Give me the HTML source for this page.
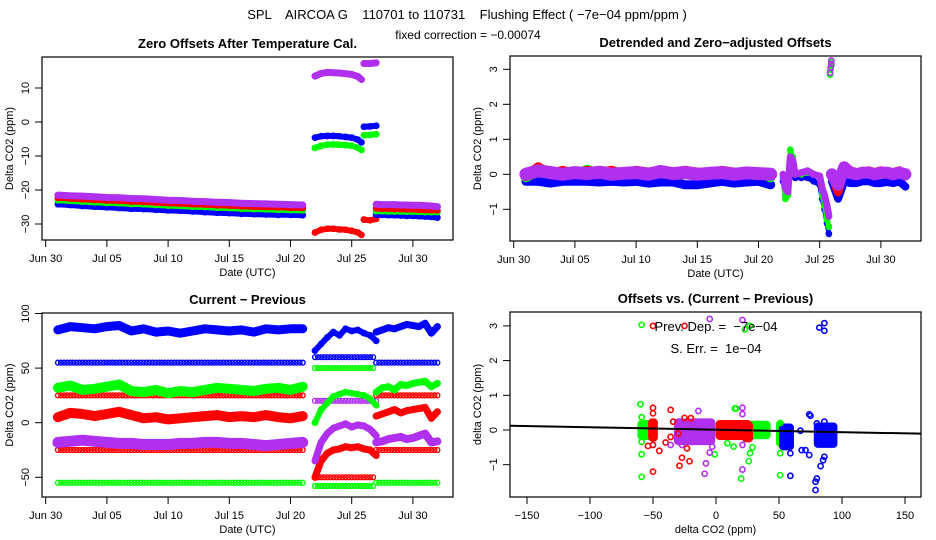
<!DOCTYPE html>
<html><head><meta charset="utf-8"><style>
html,body{margin:0;padding:0;background:#fff}
svg{display:block;font-family:"Liberation Sans",sans-serif}
</style></head><body>
<svg id="chart" width="936" height="540" viewBox="0 0 936 540" xmlns="http://www.w3.org/2000/svg">
<rect width="936" height="540" fill="#fff"/>
<text x="467" y="19" font-size="13" text-anchor="middle" style="white-space:pre">SPL    AIRCOA G    110701 to 110731    Flushing Effect ( −7e−04 ppm/ppm )</text>
<text x="468" y="39" font-size="12" text-anchor="middle">fixed correction = −0.00074</text>
</svg>
<script>
// ---------- data ----------
const dateTickLabels = ["Jun 30","Jul 05","Jul 10","Jul 15","Jul 20","Jul 25","Jul 30"];
const dateTickDays = [0,5,10,15,20,25,30];
const daysA = [1,2,3,4,5,6,7,8,9,10,11,12,13,14,15,16,17,18,19,20,21];
const daysB = [22,22.5,23,23.5,24,24.5,25,25.5,26,26.5,27];
const daysC = [27,27.5,28,28.5,29,29.5,30,30.5,31,31.5,32];
const daysB1 = [22,22.5,23,23.5,24,24.5,25,25.5,25.8];
const daysC1 = [26,26.5,27];

// Panel 1: zero offsets after temperature cal.
const p1Ticks = [-30,-20,-10,0,10];
const p1PurpleA = [-21.5,-21.7,-21.8,-22,-22.2,-22.3,-22.5,-22.6,-22.8,-23,-23.1,-23.3,-23.4,-23.6,-23.7,-23.9,-24,-24.1,-24.2,-24.3,-24.4];
const p1RedA = [-22.3,-22.5,-22.7,-22.9,-23.1,-23.2,-23.4,-23.5,-23.7,-23.9,-24,-24.2,-24.3,-24.5,-24.6,-24.8,-24.9,-25,-25.1,-25.2,-25.3];
const p1GreenA = [-23,-23.2,-23.4,-23.6,-23.8,-23.9,-24.1,-24.2,-24.4,-24.6,-24.7,-24.9,-25,-25.2,-25.3,-25.5,-25.6,-25.7,-25.8,-25.9,-26];
const p1BlueA = [-24.2,-24.4,-24.7,-24.9,-25.1,-25.3,-25.5,-25.6,-25.8,-26,-26.1,-26.3,-26.5,-26.7,-26.8,-27,-27.1,-27.2,-27.3,-27.3,-27.4];
const p1PurpleB = [13.5,14.3,14.6,14.5,14.4,14.2,14,13.4,12.5];
const p1BlueB = [-4.6,-4.2,-4.1,-4.1,-4.2,-4.4,-4.6,-5.2,-6];
const p1GreenB = [-7.6,-7,-6.7,-6.6,-6.7,-6.8,-7,-7.6,-8.2];
const p1RedB = [-32.5,-31.7,-31.4,-31.4,-31.6,-31.7,-32,-32.5,-33.2];
const p1PurpleC = [17.2,17.2,17.4];
const p1BlueC = [-1.4,-1.3,-1.1];
const p1GreenC = [-3.9,-3.8,-3.6];
const p1RedC = [-28.7,-28.9,-28.5];
const p1PurpleD = [-24.2,-24.3,-24.3,-24.3,-24.4,-24.4,-24.5,-24.5,-24.6,-24.7,-24.9];
const p1RedD = [-25.4,-25.5,-25.5,-25.6,-25.6,-25.7,-25.7,-25.8,-25.9,-25.9,-26];
const p1GreenD = [-26.2,-26.2,-26.3,-26.3,-26.3,-26.4,-26.4,-26.4,-26.5,-26.5,-26.5];
const p1BlueD = [-27.3,-27.3,-27.4,-27.4,-27.5,-27.6,-27.6,-27.7,-27.8,-27.9,-28.1];

// Panel 2: detrended offsets
const p2Ticks = [-1,0,1,2,3];
const p2PurpleA = [0,0.1,0.05,0,0.05,0.02,0.06,0,0.03,0.05,0,0.08,0.02,0.05,0,0.03,0.05,0,0.04,0.02,0];
const p2RedA = [-0.05,0.2,0,0.1,0,0.1,0.05,0.1,0,0.1,0.05,0.1,0.05,0.1,0.05,0,0.1,0.05,0,0.05,0];
const p2GreenA = [-0.1,0.1,0,0.1,0,0.15,0,0.05,0,0.05,0,0.05,0.05,0.1,0,0.05,0.1,0.05,0,0.05,-0.1];
const p2BlueA = [-0.2,-0.2,-0.25,-0.2,-0.2,-0.2,-0.22,-0.2,-0.22,-0.2,-0.25,-0.22,-0.22,-0.3,-0.3,-0.25,-0.2,-0.25,-0.22,-0.2,-0.3];
const p2DaysB = [22,22.2,22.4,22.6,22.8,23,23.5,24,24.5,25,25.2,25.4,25.6,25.75];
const p2PurpleB = [0,-0.4,-0.5,0.5,0.4,0,0.05,0.1,0,-0.05,-0.4,-0.6,-0.9,-1.2];
const p2BlueB = [-0.2,-0.6,-0.55,0.4,0.3,-0.1,-0.1,-0.1,-0.2,-0.3,-0.7,-1,-1.4,-1.7];
const p2GreenB = [-0.1,-0.7,-0.6,0.7,0.5,0,0,0.05,0,-0.1,-0.6,-0.9,-1.3,-1.5];
const p2SpikeDays = [25.85,25.9,25.95,25.95];
const p2SpikeVals = [2.85,3.0,3.1,3.2];
const p2DaysC = [26,26.5,27,27.5,28,28.5,29,29.5,30,30.5,31,31.5,32];
const p2PurpleC = [0,-0.3,0.2,0.05,0,0.05,0.05,0,0.05,0.05,0,0.05,0];
const p2RedC = [0,-0.5,0.2,0.1,0.05,0.05,0.1,0.05,0.1,0.05,0.05,0.1,-0.05];
const p2BlueC = [-0.2,-0.7,-0.2,-0.25,-0.25,-0.2,-0.2,-0.25,-0.25,-0.22,-0.25,-0.2,-0.35];

// Panel 3: current - previous
const p3Ticks = [-50,0,50,100];
const p3BlueHiA = [85,88,87,86,88,89,84,86,83,84,82,84,86,85,84,85,83,86,85,86,86];
const p3BlueHiB = [66,72,78,83,80,86,84,85,82,80,75];
const p3BlueHiC = [83,85,87,86,88,90,89,88,91,82,88];
const p3GreenA = [32,34,30,31,33,35,29,28,30,27,29,28,30,32,31,30,29,31,32,30,33];
const p3GreenB = [0,12,18,24,26,28,27,26,25,22,16];
const p3GreenC = [28,32,33,30,35,34,36,37,38,33,36];
const p3RedA = [5,9,8,6,8,10,7,4,5,3,4,5,6,7,5,6,5,7,5,4,6];
const p3RedB = [-50,-35,-28,-25,-24,-22,-23,-22,-24,-25,-30];
const p3RedC = [6,8,10,12,9,11,12,13,14,4,10];
const p3PurpleA = [-18,-17,-16,-17,-18,-19,-19,-20,-20,-20,-19,-19,-18,-18,-19,-19,-20,-21,-20,-19,-18];
const p3PurpleB = [-35,-18,-10,-5,-3,-1,-4,-2,-3,-6,-12];
const p3PurpleC = [-18,-17,-15,-14,-13,-15,-14,-12,-10,-18,-17];
// constant-level segments: [startDay, endDay, value]
const p3BlueLevels = [[1,21,55],[22,26.8,60],[27,32,55]];
const p3GreenLevels = [[22,26.8,50],[1,21,-55],[22,26.8,-58],[27,32,-55]];
const p3RedLevels = [[1,21,25],[27,32,25],[1,21,-25],[22,26.8,-50],[27,32,-25]];
const p3PurpleLevels = [[22,27,20]];

// Panel 4: offsets vs (current - previous)
const p4XTicks = [-150,-100,-50,0,50,100,150];
const p4YTicks = [-1,0,1,2,3];
const p4Slope = -0.0007;
const p4Intercept = 0.008;
// blobs: [cx, cy, halfWidth, halfHeight] in data units
const p4GreenBlobs = [[-56,0,4,0.2],[33,0,8,0.18],[51,-0.1,1,0.3]];
const p4RedBlobs = [[-50,0,1.5,0.25],[14,0,12,0.2],[25,-0.05,2,0.22]];
const p4PurpleBlobs = [[-17,-0.05,14,0.3]];
const p4BlueBlobs = [[56,-0.2,3.5,0.3],[87,-0.15,7,0.28]];
const p4GreenX = [-59,-60,-59,-59,-59,-59,9,15,16,14,20,26,27,29,23,27,51,51,51,-1];
const p4GreenY = [3.03,0.74,0.37,-0.34,-0.7,-1.35,-0.38,0.62,0.62,-0.48,-1.4,-0.9,-0.67,-0.5,2.9,3.0,-0.67,-1.3,0.2,-0.7];
const p4RedX = [-50,-50,-50,-50,-50,-54,-45,-40,-36,-36,-34,-30,-29,-27,-25,-23,-21,-20,-25];
const p4RedY = [3.0,0.64,0.48,-0.43,-1.2,-0.46,-0.6,-0.36,-0.2,0.58,0.24,-0.1,-1.03,-0.8,0.35,-0.53,-0.9,0.34,3.0];
const p4PurpleX = [-5,21,-14,-9,-8,-5,-3,21,21,21,21,-36,-27];
const p4PurpleY = [3.2,3.17,0.55,-1.26,-0.96,-0.65,-0.48,0.64,0.46,-0.43,-1.14,-0.43,-0.43];
const p4BlueX = [82,86,86,59,59,67,68,71,74,74,75,80,79,79,80,83,85,86,86,58];
const p4BlueY = [2.95,3.08,2.86,-0.67,-1.32,-0.02,-0.58,-0.58,-0.72,0.45,0.41,0.19,-1.73,-1.49,-1.4,-1.04,-0.87,-0.77,0.24,-0.48];

// ---------- drawing ----------
const NS = "http://www.w3.org/2000/svg";
const svg = document.getElementById("chart");
const C = {blue:"#0000ff", green:"#00ff00", red:"#ff0000", purple:"#b030f0"};
function mk(tag, attrs, parent){
  const e = document.createElementNS(NS, tag);
  for (const k in attrs) e.setAttribute(k, attrs[k]);
  (parent||svg).appendChild(e);
  return e;
}
function txt(x,y,s,size,anchor,rot,parent,weight){
  const t = mk("text",{x:x,y:y,"font-size":size,"text-anchor":anchor||"middle"},parent);
  if (rot) t.setAttribute("transform","rotate(-90 "+x+" "+y+")");
  if (weight) t.setAttribute("font-weight",weight);
  t.textContent = s;
  return t;
}
function panel(name, box, sx, sy, title, xlab, ylab, xTicks, xTickLabels, yTicks){
  const g = mk("g",{});
  
  
  const clip = mk("clipPath",{id:name+"-clip"},g);
  mk("rect",{x:box.x0,y:box.y0,width:box.x1-box.x0,height:box.y1-box.y0},clip);
  const plot = mk("g",{"clip-path":"url(#"+name+"-clip)"},g);
  
  
  const fr = mk("rect",{x:box.x0,y:box.y0,width:box.x1-box.x0,height:box.y1-box.y0,fill:"none",stroke:"#000","stroke-width":1.2},g);
  
  
  const ax = mk("g",{stroke:"#000","stroke-width":1},g);
  
  
  mk("line",{x1:sx(xTicks[0]),x2:sx(xTicks[xTicks.length-1]),y1:box.y1,y2:box.y1},ax);
  xTicks.forEach((v,i)=>{
    const X = sx(v);
    mk("line",{x1:X,x2:X,y1:box.y1,y2:box.y1+7},ax);
    const t = txt(X, box.y1+22, xTickLabels[i], 11, "middle", false, g);
    
    
  });
  const ay = mk("g",{stroke:"#000","stroke-width":1},g);
  
  
  mk("line",{x1:box.x0,x2:box.x0,y1:sy(yTicks[0]),y2:sy(yTicks[yTicks.length-1])},ay);
  yTicks.forEach(v=>{
    const Y = sy(v);
    mk("line",{x1:box.x0-7,x2:box.x0,y1:Y,y2:Y},ay);
    const t = txt(box.x0-13, Y, String(v).replace("-","−"), 11, "middle", true, g);
    
    
  });
  const tt = txt((box.x0+box.x1)/2, box.y0-9, title, 13, "middle", false, g, "bold");
  
  
  const xl = txt((box.x0+box.x1)/2, box.y1+36, xlab, 11, "middle", false, g);
  
  
  const yl = txt(box.x0-29, (box.y0+box.y1)/2, ylab, 11, "middle", true, g);
  
  
  return plot;
}
function band(plot, sx, sy, xs, ys, color, w, nm){
  const pts = xs.map((d,i)=>sx(d).toFixed(1)+","+sy(ys[i]).toFixed(1)).join(" ");
  const p = mk("polyline",{points:pts,fill:"none",stroke:color,"stroke-width":w,"stroke-linejoin":"round","stroke-linecap":"round"},plot);
  
  
  xs.forEach((d,i)=>{
    const c = mk("circle",{cx:sx(d),cy:sy(ys[i]),r:2.6,fill:"none",stroke:color,"stroke-width":1.6},plot);
    
    
  });
}
function pts(plot, sx, sy, xs, ys, color, nm){
  xs.forEach((d,i)=>{
    const c = mk("circle",{cx:sx(d),cy:sy(ys[i]),r:2.6,fill:"none",stroke:color,"stroke-width":1.6},plot);
    
    
  });
}
function levels(plot, sx, sy, segs, color, nm){
  segs.forEach(s=>{
    for (let d=s[0]; d<=s[1]+1e-6; d+=0.25){
      const c = mk("circle",{cx:sx(d),cy:sy(s[2]),r:2.4,fill:"none",stroke:color,"stroke-width":1.4},plot);
      
      
    }
  });
}

// Panel 1
{
  const box = {x0:42,x1:453,y0:57,y1:240};
  const sx = d => 45.7 + d*12.24;
  const sy = v => 122 - v*3.4;
  const pl = panel("zero-offsets-panel", box, sx, sy, "Zero Offsets After Temperature Cal.", "Date (UTC)", "Delta CO2 (ppm)", dateTickDays, dateTickLabels, p1Ticks);
  const w = 6;
  [[daysA,p1BlueA,p1GreenA,p1RedA,p1PurpleA],[daysB1,p1BlueB,p1GreenB,p1RedB,p1PurpleB],[daysC1,p1BlueC,p1GreenC,p1RedC,p1PurpleC],[daysC,p1BlueD,p1GreenD,p1RedD,p1PurpleD]].forEach(s=>{
    band(pl,sx,sy,s[0],s[1],C.blue,w,"blue-offset-series");
    band(pl,sx,sy,s[0],s[2],C.green,w,"green-offset-series");
    band(pl,sx,sy,s[0],s[3],C.red,w,"red-offset-series");
    band(pl,sx,sy,s[0],s[4],C.purple,w+1,"purple-offset-series");
  });
}
// Panel 2
{
  const box = {x0:510,x1:921,y0:56,y1:241};
  const sx = d => 513.7 + d*12.24;
  const sy = v => 174.3 - v*35;
  const pl = panel("detrended-panel", box, sx, sy, "Detrended and Zero−adjusted Offsets", "Date (UTC)", "Delta CO2 (ppm)", dateTickDays, dateTickLabels, p2Ticks);
  band(pl,sx,sy,daysA,p2BlueA,C.blue,9,"blue-detrended-series");
  band(pl,sx,sy,daysA,p2GreenA,C.green,9,"green-detrended-series");
  band(pl,sx,sy,daysA,p2RedA,C.red,10,"red-detrended-series");
  band(pl,sx,sy,daysA,p2PurpleA,C.purple,13,"purple-detrended-series");
  band(pl,sx,sy,p2DaysB,p2BlueB,C.blue,5,"blue-detrended-series");
  band(pl,sx,sy,p2DaysB,p2GreenB,C.green,5,"green-detrended-series");
  band(pl,sx,sy,p2DaysB,p2PurpleB,C.purple,7,"purple-detrended-series");
  pts(pl,sx,sy,p2SpikeDays,p2SpikeVals,C.green,"spike-point");
  pts(pl,sx,sy,p2SpikeDays,p2SpikeVals.map(v=>v+0.05),C.purple,"spike-point");
  band(pl,sx,sy,p2DaysC,p2BlueC,C.blue,8,"blue-detrended-series");
  band(pl,sx,sy,p2DaysC,p2RedC,C.red,9,"red-detrended-series");
  band(pl,sx,sy,p2DaysC,p2PurpleC,C.purple,12,"purple-detrended-series");
}
// Panel 3
{
  const box = {x0:42,x1:453,y0:313,y1:497};
  const sx = d => 45.7 + d*12.24;
  const sy = v => 422.7 - v*1.092;
  const pl = panel("current-previous-panel", box, sx, sy, "Current − Previous", "Date (UTC)", "Delta CO2 (ppm)", dateTickDays, dateTickLabels, p3Ticks);
  levels(pl,sx,sy,p3BlueLevels,C.blue,"blue-level-point");
  levels(pl,sx,sy,p3GreenLevels,C.green,"green-level-point");
  levels(pl,sx,sy,p3RedLevels,C.red,"red-level-point");
  levels(pl,sx,sy,p3PurpleLevels,C.purple,"purple-level-point");
  band(pl,sx,sy,daysA,p3BlueHiA,C.blue,9,"blue-diff-series");
  band(pl,sx,sy,daysB,p3BlueHiB,C.blue,6,"blue-diff-series");
  band(pl,sx,sy,daysC,p3BlueHiC,C.blue,7,"blue-diff-series");
  band(pl,sx,sy,daysA,p3GreenA,C.green,10,"green-diff-series");
  band(pl,sx,sy,daysB,p3GreenB,C.green,6,"green-diff-series");
  band(pl,sx,sy,daysC,p3GreenC,C.green,7,"green-diff-series");
  band(pl,sx,sy,daysA,p3RedA,C.red,10,"red-diff-series");
  band(pl,sx,sy,daysB,p3RedB,C.red,7,"red-diff-series");
  band(pl,sx,sy,daysC,p3RedC,C.red,7,"red-diff-series");
  band(pl,sx,sy,daysA,p3PurpleA,C.purple,11,"purple-diff-series");
  band(pl,sx,sy,daysB,p3PurpleB,C.purple,7,"purple-diff-series");
  band(pl,sx,sy,daysC,p3PurpleC,C.purple,8,"purple-diff-series");
}
// Panel 4
{
  const box = {x0:510,x1:921,y0:312,y1:497};
  const sx = v => 716 + v*1.26;
  const sy = v => 430 - v*34.7;
  const pl = panel("offsets-vs-diff-panel", box, sx, sy, "Offsets vs. (Current − Previous)", "delta CO2 (ppm)", "delta CO2 (ppm)", p4XTicks, p4XTicks.map(v=>String(v).replace("-","−")), p4YTicks);
  function blobs(arr,color,nm){
    arr.forEach(b=>{
      const e = mk("rect",{x:sx(b[0]-b[2])-3,y:sy(b[1]+b[3])-3,width:b[2]*2*1.26+6,height:b[3]*2*34.7+6,rx:4,fill:color},pl);
      
      
    });
  }
  blobs(p4GreenBlobs,C.green,"green-cluster");
  blobs(p4RedBlobs,C.red,"red-cluster");
  blobs(p4PurpleBlobs,C.purple,"purple-cluster");
  blobs(p4BlueBlobs,C.blue,"blue-cluster");
  pts(pl,sx,sy,p4GreenX,p4GreenY,C.green,"green-point");
  pts(pl,sx,sy,p4RedX,p4RedY,C.red,"red-point");
  pts(pl,sx,sy,p4PurpleX,p4PurpleY,C.purple,"purple-point");
  pts(pl,sx,sy,p4BlueX,p4BlueY,C.blue,"blue-point");
  const ln = mk("line",{x1:sx(-170),y1:sy(p4Intercept+p4Slope*-170),x2:sx(170),y2:sy(p4Intercept+p4Slope*170),stroke:"#000","stroke-width":2},pl);
  
  
  const t1 = txt(716, 331, "Prev. Dep. =  −7e−04", 13, "middle", false);
  t1.setAttribute("style","white-space:pre");
  
  
  const t2 = txt(716, 353, "S. Err. =  1e−04", 13, "middle", false);
  t2.setAttribute("style","white-space:pre");
  
  
}
</script>
</body></html>
